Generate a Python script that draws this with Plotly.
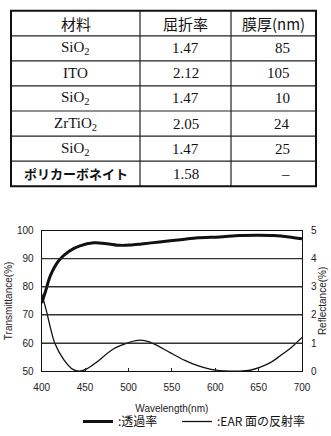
import plotly.graph_objects as go

# ---------------- data ----------------
tbl_header = ["材料", "屈折率", "膜厚(nm)"]
tbl_material = ["SiO<sub>2</sub>", "ITO", "SiO<sub>2</sub>", "ZrTiO<sub>2</sub>", "SiO<sub>2</sub>", "<b>ポリカーボネイト</b>"]
tbl_index = ["1.47", "2.12", "1.47", "2.05", "1.47", "1.58"]
tbl_thick = ["85", "105", "10", "24", "25", "–"]

wl_T = [400, 404, 410, 420, 432, 444, 460, 475, 490, 502, 515, 536, 560, 580, 605, 628, 650, 667, 685, 700]
trans = [74.2, 78.0, 84.0, 89.5, 92.8, 94.6, 95.7, 95.4, 94.8, 94.9, 95.3, 96.0, 96.8, 97.5, 97.8, 98.3, 98.4, 98.3, 97.8, 97.1]

wl_R = [400, 405, 410, 415, 425, 436, 444, 452, 463, 482, 502, 513, 525, 548, 565, 579, 595, 605, 617, 628, 640, 652, 665, 675, 688, 700]
refl = [2.75, 2.2, 1.55, 1.0, 0.43, 0.06, 0.0, 0.08, 0.31, 0.78, 1.03, 1.1, 1.03, 0.66, 0.38, 0.2, 0.06, 0.02, 0.0, 0.0, 0.03, 0.14, 0.33, 0.55, 0.85, 1.2]

x_ticks = [400, 450, 500, 550, 600, 650, 700]
y_range = [50, 100]
y_grid = [60, 70, 80, 90]

# ---------------- layout constants ----------------
W, H = 331, 436
col_edges = [11, 140, 231, 316]
row_top, row_bot = 11, 191
n_rows = 1 + len(tbl_material)
row_h = (row_bot - row_top) / n_rows

serif = "Liberation Serif, Times New Roman, serif"
cjk = "Noto Sans CJK JP"
sans = "Liberation Sans, Arial, sans-serif"


def px(x):
    return x / W


def py(y):
    return 1 - y / H


px_l, px_r, px_t, px_b = 41.7, 302, 236.7, 380.7
x_dom = [px(px_l), px(px_r)]
y_dom = [py(px_b), py(px_t)]

fig = go.Figure()

fig.add_trace(go.Scatter(x=wl_T, y=trans, mode="lines", name=":透過率",
                         line=dict(color="#111", width=3, shape="spline", smoothing=0.8),
                         xaxis="x", yaxis="y", legend="legend"))
fig.add_trace(go.Scatter(x=wl_R, y=refl, mode="lines", name=":EAR 面の反射率",
                         line=dict(color="#111", width=1.3, shape="spline", smoothing=0.8),
                         xaxis="x", yaxis="y2", legend="legend2"))

# ---------------- table ----------------
def row_center(i):
    return row_top + row_h * (i + 0.5)


col_c = [(col_edges[j] + col_edges[j + 1]) / 2 for j in range(3)]
annotations = []


def add_text(text, x, y, family, size, xanchor="center"):
    annotations.append(dict(text=text, x=px(x), y=py(y), xref="paper", yref="paper",
                            xanchor=xanchor, yanchor="middle", showarrow=False,
                            font=dict(family=family, size=size, color="#111")))


for j, h in enumerate(tbl_header):
    add_text(h, col_c[j], row_center(0), cjk, 15)
for i, m in enumerate(tbl_material):
    if m.startswith("<b>"):
        add_text(m, col_c[0], row_center(i + 1), cjk, 13)
    else:
        add_text(m, col_c[0], row_center(i + 1), serif, 15)
for i, v in enumerate(tbl_index):
    add_text(v, col_c[1], row_center(i + 1), serif, 15)
for i, v in enumerate(tbl_thick):
    add_text(v, col_edges[3] - 24, row_center(i + 1), serif, 15, xanchor="right")

shapes = []
for i in range(1, n_rows):
    y = row_top + row_h * i
    shapes.append(dict(type="line", xref="paper", yref="paper", x0=px(col_edges[0]), x1=px(col_edges[3]),
                       y0=py(y), y1=py(y), line=dict(color="#222", width=1.2)))
for x in col_edges[1:3]:
    shapes.append(dict(type="line", xref="paper", yref="paper", x0=px(x), x1=px(x),
                       y0=py(row_top), y1=py(row_bot), line=dict(color="#222", width=1.2)))
shapes.append(dict(type="rect", xref="paper", yref="paper", x0=px(col_edges[0]), x1=px(col_edges[3]),
                   y0=py(row_top), y1=py(row_bot), line=dict(color="#111", width=2)))

# chart grid lines, mapped through the y axis' range and domain
for g in y_grid:
    f = y_dom[0] + (g - y_range[0]) / (y_range[1] - y_range[0]) * (y_dom[1] - y_dom[0])
    shapes.append(dict(type="line", xref="paper", yref="paper", x0=x_dom[0], x1=x_dom[1],
                       y0=f, y1=f, layer="above", line=dict(color="#333", width=1.1)))

fig.update_layout(
    width=W, height=H, autosize=False,
    margin=dict(l=0, r=0, t=0, b=0),
    paper_bgcolor="white", plot_bgcolor="rgba(0,0,0,0)",
    font=dict(family=sans, size=10, color="#222"),
    shapes=shapes,
    annotations=annotations,
    xaxis=dict(domain=x_dom, range=[400, 700], tickvals=x_ticks,
               ticks="inside", ticklen=3, tickcolor="#222", showline=True, mirror=True,
               linecolor="#111", linewidth=1, showgrid=False, zeroline=False,
               ticklabelstandoff=7,
               title=dict(text="Wavelength(nm)", font=dict(size=10), standoff=12),
               anchor="y", automargin=False, tickfont=dict(size=10)),
    yaxis=dict(domain=y_dom, range=y_range, dtick=10,
               ticks="inside", ticklen=3, tickcolor="#222", showline=True, mirror=True,
               linecolor="#111", linewidth=1, showgrid=True, gridcolor="#333", gridwidth=1,
               zeroline=False, automargin=False, ticklabelstandoff=5,
               title=dict(text="Transmittance(%)", font=dict(size=10), standoff=2),
               anchor="x", tickfont=dict(size=10)),
    yaxis2=dict(overlaying="y", side="right", range=[0, 5], dtick=1, anchor="x",
                ticks="inside", ticklen=3, tickcolor="#222", showgrid=False, zeroline=False,
                showline=False, automargin=False, ticklabelstandoff=8,
                title=dict(text="Reflectance(%)", font=dict(size=10), standoff=2),
                tickfont=dict(size=10)),
    legend=dict(orientation="h", x=px(78), xanchor="left", y=py(418), yanchor="top",
                font=dict(family=cjk, size=12, color="#111"), bgcolor="rgba(0,0,0,0)",
                borderwidth=0, itemwidth=30),
    legend2=dict(orientation="h", x=px(177), xanchor="left", y=py(418), yanchor="top",
                 font=dict(family=cjk, size=12, color="#111"), bgcolor="rgba(0,0,0,0)",
                 borderwidth=0, itemwidth=30),
    showlegend=True,
)

fig.write_html("out.html")
